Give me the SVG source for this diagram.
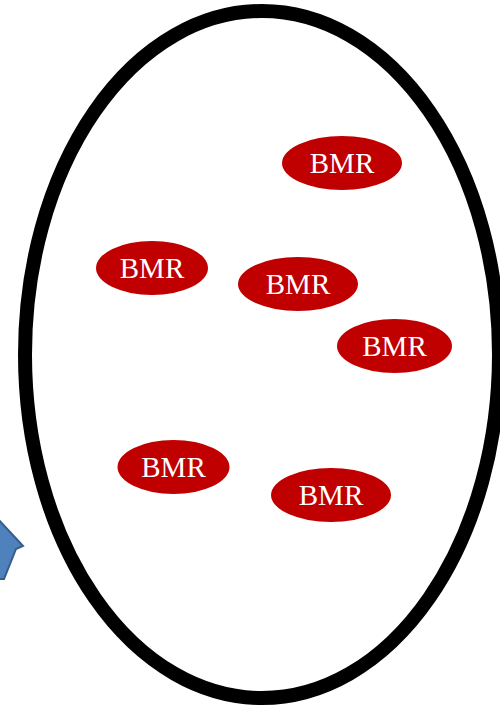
<svg xmlns="http://www.w3.org/2000/svg" width="500" height="709" viewBox="0 0 500 709">
<style>
.cell{fill:#c00000;}
.lbl{font-family:"Liberation Serif","Times New Roman",serif;font-size:29px;fill:#fff;text-anchor:middle;}
</style>
<rect width="500" height="709" fill="#fff"/>
<g id="arrow"><polygon points="-2,519 23,546 16,549 4,579 -2,579" fill="#4f81bd" stroke="#385d8a" stroke-width="2" stroke-linejoin="miter"/></g>
<g id="container"><ellipse cx="262" cy="354.5" rx="237" ry="343.5" fill="none" stroke="#000" stroke-width="14"/></g>
<g id="bmr1"><ellipse class="cell" cx="342" cy="163" rx="60" ry="27"/><text class="lbl" x="342" y="173">BMR</text></g>
<g id="bmr2"><ellipse class="cell" cx="152" cy="268" rx="56" ry="27"/><text class="lbl" x="152" y="278">BMR</text></g>
<g id="bmr3"><ellipse class="cell" cx="298" cy="284" rx="60" ry="27"/><text class="lbl" x="298" y="294">BMR</text></g>
<g id="bmr4"><ellipse class="cell" cx="394.5" cy="346" rx="57.5" ry="27"/><text class="lbl" x="394.5" y="356">BMR</text></g>
<g id="bmr5"><ellipse class="cell" cx="173.5" cy="467" rx="56" ry="27"/><text class="lbl" x="173.5" y="477">BMR</text></g>
<g id="bmr6"><ellipse class="cell" cx="331" cy="495" rx="60" ry="27"/><text class="lbl" x="331" y="505">BMR</text></g>
<g id="connectors"></g>
</svg>
